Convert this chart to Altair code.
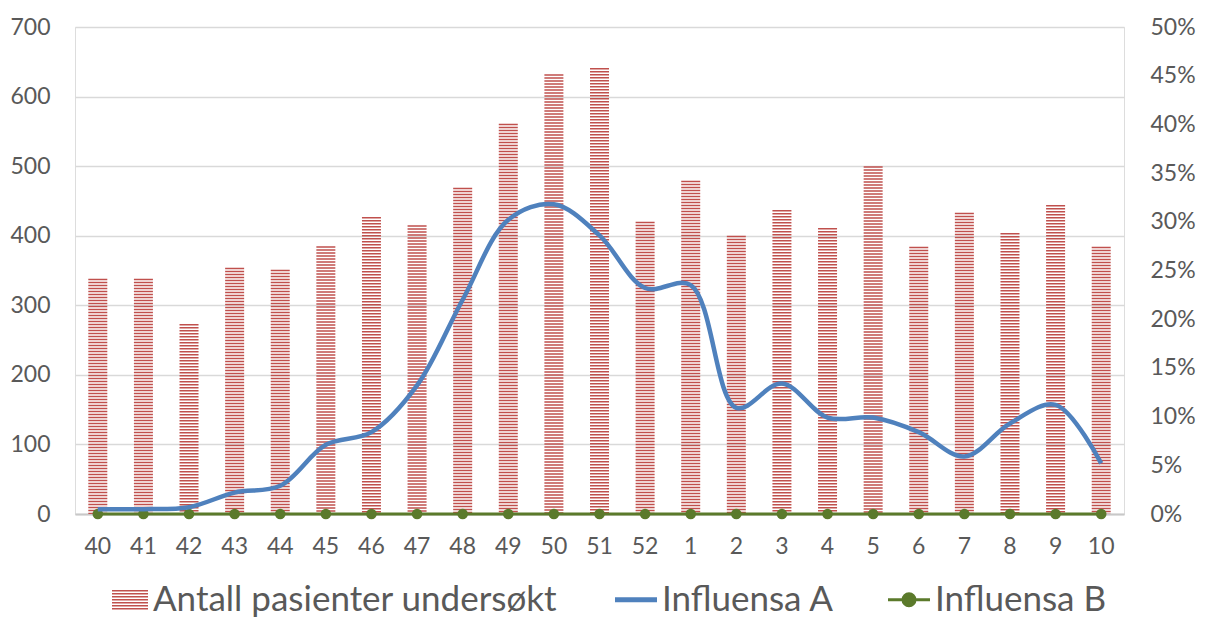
import altair as alt
import pandas as pd

weeks = ["40", "41", "42", "43", "44", "45", "46", "47", "48", "49", "50", "51", "52",
         "1", "2", "3", "4", "5", "6", "7", "8", "9", "10"]
patients = [338, 338, 273, 354, 351, 385, 427, 415, 469, 561, 632, 641, 420,
            479, 400, 437, 411, 500, 384, 433, 404, 444, 384]
influensa_a = [0.005, 0.005, 0.007, 0.022, 0.029, 0.071, 0.084, 0.132, 0.22, 0.302, 0.318, 0.286, 0.232,
               0.235, 0.109, 0.134, 0.099, 0.099, 0.084, 0.059, 0.093, 0.112, 0.052]
influensa_b = [0.0] * 23

S_BAR = "Antall pasienter undersøkt"
S_A = "Influensa A"
S_B = "Influensa B"
series = [S_BAR, S_A, S_B]
colors = ["#C0504D", "#4F81BD", "#5B7A2B"]

rows = []
for i, w in enumerate(weeks):
    rows.append({"week": w, "idx": i, "series": S_BAR, "value": patients[i]})
    rows.append({"week": w, "idx": i, "series": S_A, "value": influensa_a[i]})
    rows.append({"week": w, "idx": i, "series": S_B, "value": influensa_b[i]})
df = pd.DataFrame(rows)

FONT = "Lato"
TXT = "#595959"

stripe_path = "".join(f"M-0.714,{y:.3f}H1" for y in [-0.429, -0.286, -0.143, 0.0, 0.143, 0.286, 0.429])
line_path = "M-1,0H1"
dot_path = "M-1,0H1M-0.286,0A0.286,0.286,0,1,1,0.286,0A0.286,0.286,0,1,1,-0.286,0"

shape_expr = (f"datum.value == '{S_BAR}' ? '{stripe_path}' : "
              f"(datum.value == '{S_A}' ? '{line_path}' : '{dot_path}')")
sw_expr = f"datum.value == '{S_BAR}' ? 1.5 : (datum.value == '{S_A}' ? 5 : 3)"

legend = alt.Legend(
    title=None,
    orient="none",
    legendX=34.5,
    legendY=555,
    direction="horizontal",
    columns=3,
    padding=0,
    columnPadding=47,
    labelFont=FONT,
    labelFontSize=35,
    labelColor=TXT,
    labelOffset=8.5,
    labelLimit=1000,
    symbolSize=1764,
    symbolType=alt.ExprRef(expr=shape_expr),
    symbolStrokeWidth=alt.ExprRef(expr=sw_expr),
    symbolFillColor=colors[2],
    symbolOpacity=1,
)

color = alt.Color("series:N", scale=alt.Scale(domain=series, range=colors), legend=legend)

x = alt.X("week:N", sort=weeks, title=None,
          axis=alt.Axis(labelFont=FONT, labelFontSize=23, labelColor=TXT, labelAngle=0,
                        labelPadding=21, ticks=False, domainColor="#C8C8C8", domainWidth=2,
                        grid=False))

base = alt.Chart(df)

bars = base.transform_filter(alt.datum.series == S_BAR).mark_rule(
    strokeWidth=19, strokeDash=[1.5, 1.5], strokeCap="butt"
).encode(
    x=x,
    y=alt.Y("value:Q", title=None, scale=alt.Scale(domain=[0, 700], nice=False),
            axis=alt.Axis(values=list(range(0, 701, 100)), labelFont=FONT, labelFontSize=23,
                          labelColor=TXT, labelPadding=25, ticks=False, domain=False,
                          gridColor="#D9D9D9", gridWidth=1.5)),
    y2=alt.datum(0),
    color=color,
)

yr = alt.Y("value:Q", title=None, scale=alt.Scale(domain=[0, 0.5], nice=False),
           axis=alt.Axis(orient="right", format=".0%", values=[i / 100 for i in range(0, 51, 5)],
                         labelFont=FONT, labelFontSize=23, labelColor=TXT, labelPadding=26,
                         ticks=False, domain=False, grid=False))

line_b = base.transform_filter(alt.datum.series == S_B).mark_line(strokeWidth=3).encode(
    x=x, y=yr, color=color, order="idx:Q")
pts_b = base.transform_filter(alt.datum.series == S_B).mark_point(filled=True, size=113, opacity=1).encode(
    x=x, y=yr, color=color)
line_a = base.transform_filter(alt.datum.series == S_A).mark_line(
    strokeWidth=4.5, interpolate="catmull-rom").encode(
    x=x, y=yr, color=color, order="idx:Q")

lines = alt.layer(line_b, pts_b, line_a)

chart = alt.layer(bars, lines).resolve_scale(y="independent").properties(
    width=1049, height=487,
    autosize=alt.AutoSizeParams(type="none"),
    padding={"left": 67, "top": 19, "right": 74, "bottom": 105},
).configure_view(stroke=None).configure(background="white")

chart.save("out.html", embed_options={"renderer": "svg", "actions": False})
